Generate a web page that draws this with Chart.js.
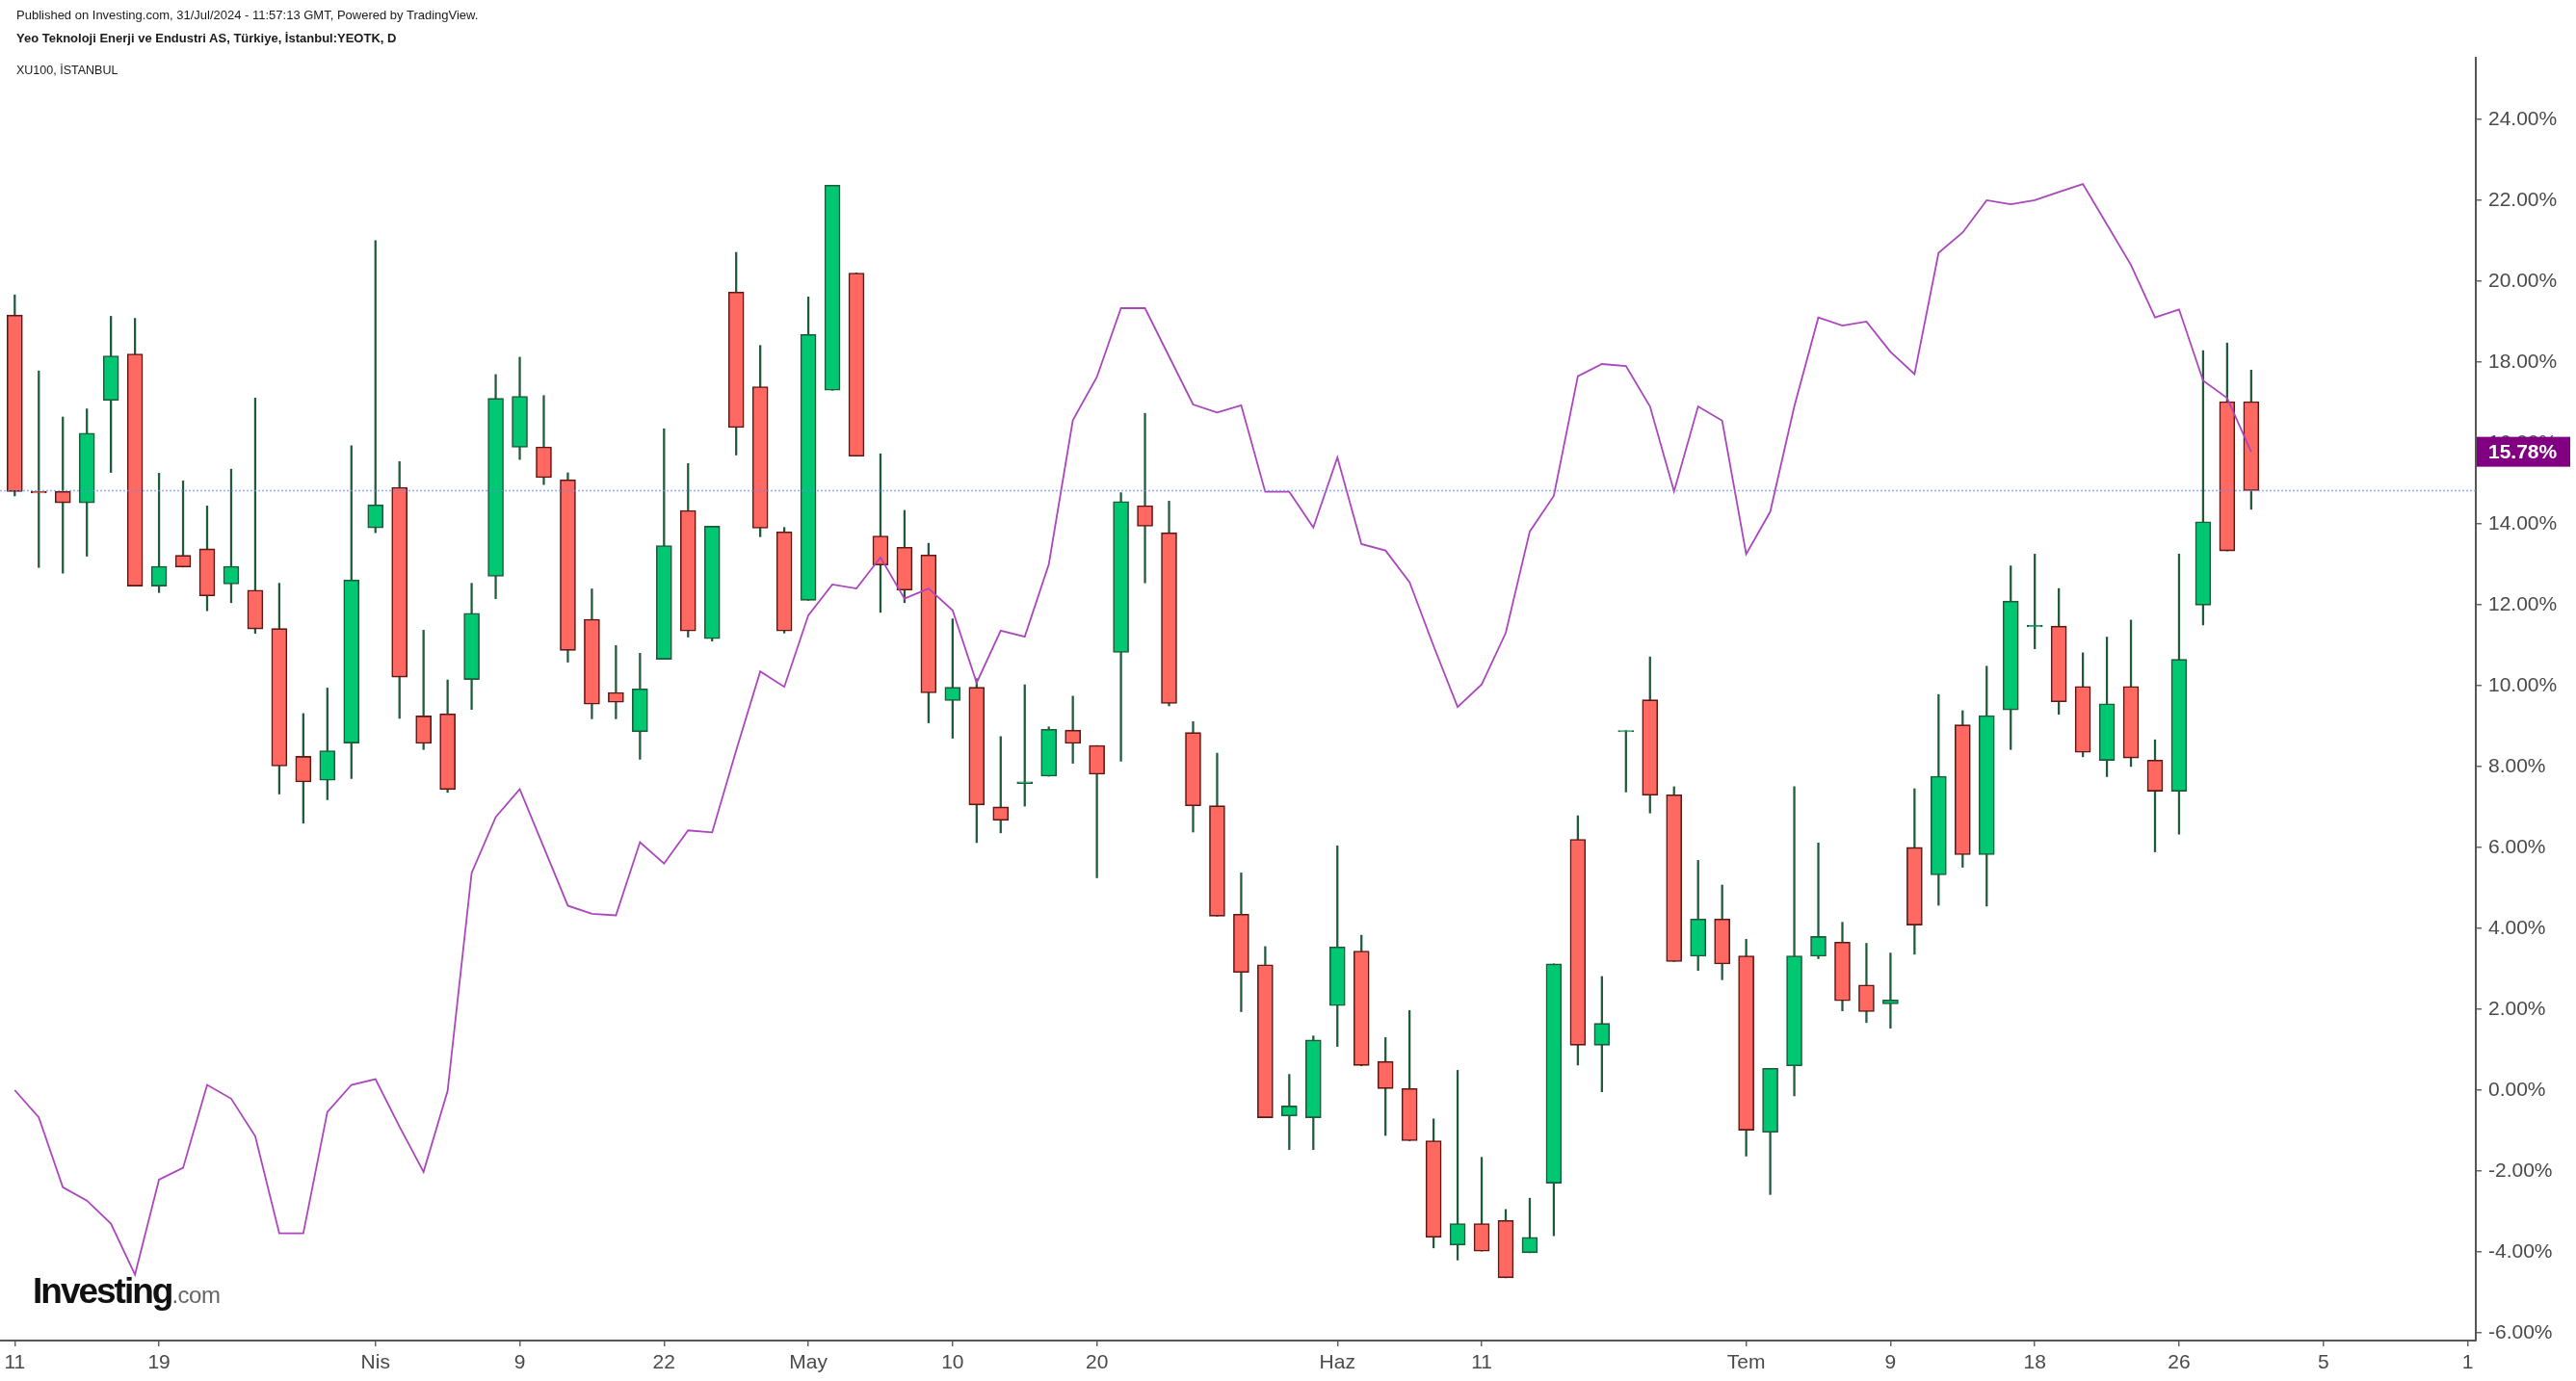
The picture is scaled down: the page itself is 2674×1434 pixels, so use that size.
<!DOCTYPE html>
<html>
<head>
<meta charset="utf-8">
<script src="https://cdn.jsdelivr.net/npm/chart.js@4.4.1/dist/chart.umd.min.js"></script>
<style>
  html, body { margin: 0; padding: 0; background: #fff; }
  #wrap { position: relative; width: 2674px; height: 1434px; overflow: hidden; }
  #chart { position: absolute; left: 0; top: 0; }
  .hdr { position: absolute; left: 17px; font-family: "Liberation Sans", Arial, sans-serif; color: #1a1a1a; white-space: nowrap; line-height: 15px; }
  #logo { position: absolute; left: 34px; top: 1323px; white-space: nowrap; font-family: "Liberation Sans", Arial, sans-serif; line-height: 36px; }
  #logo .a { font-size: 37px; font-weight: bold; color: #111; letter-spacing: -2px; }
  #logo .b { font-size: 24px; color: #666; letter-spacing: -0.5px; }
</style>
</head>
<body>
<div id="wrap">
  <canvas id="chart" width="2674" height="1434"></canvas>
  <div class="hdr" style="top:8px;font-size:13px;">Published on Investing.com, 31/Jul/2024 - 11:57:13 GMT, Powered by TradingView.</div>
  <div class="hdr" style="top:32px;font-size:13px;font-weight:bold;">Yeo Teknoloji Enerji ve Endustri AS, Türkiye, İstanbul:YEOTK, D</div>
  <div class="hdr" style="top:66px;font-size:12.5px;">XU100, İSTANBUL</div>
  <div id="logo"><span class="a">Investing</span><span class="b">.com</span></div>
</div>
<script>
// YEOTK daily candles, % scale (11 Mar - 31 Jul 2024), index = trading day
const opens = [19.16, 14.80, 14.80, 14.52, 17.05, 18.20, 12.46, 13.22, 13.38, 12.51,
  12.36, 11.41, 8.25, 7.66, 8.58, 13.90, 14.90, 9.25, 9.30, 10.15,
  12.70, 15.89, 15.90, 15.09, 11.64, 9.83, 8.86, 10.65, 14.33, 11.16,
  19.73, 17.39, 13.80, 12.11, 17.30, 20.20, 13.70, 13.42, 13.23, 9.63,
  9.96, 7.00, 7.58, 7.76, 8.90, 8.52, 10.82, 14.45, 13.78, 8.84,
  7.03, 4.35, 3.10, -0.64, -0.68, 2.09, 3.44, 0.71, 0.04, -1.25,
  -3.83, -3.30, -3.22, -4.02, -2.30, 6.20, 1.11, 8.86, 9.65, 7.30,
  3.31, 4.23, 3.32, -1.04, 0.60, 3.31, 3.66, 2.60, 2.13, 6.00,
  5.32, 9.03, 5.82, 9.40, 11.45, 11.47, 9.98, 8.15, 9.98, 8.16,
  7.39, 11.99, 17.02, 17.02];
const highs = [19.66, 17.78, 16.64, 16.84, 19.13, 19.08, 15.25, 15.06, 14.44, 15.35,
  17.11, 12.53, 9.31, 9.94, 15.93, 21.00, 15.54, 11.37, 10.14, 12.53,
  17.69, 18.12, 17.17, 15.26, 12.39, 10.99, 10.80, 16.35, 15.49, 13.94,
  20.71, 18.41, 13.91, 19.61, 22.37, 20.20, 15.73, 14.33, 13.52, 11.65,
  10.17, 8.74, 10.02, 8.98, 9.74, 8.52, 14.77, 16.73, 14.56, 9.11,
  8.33, 5.37, 3.55, 0.39, 1.34, 6.04, 3.83, 1.30, 1.97, -0.71,
  0.49, -1.66, -2.95, -2.67, 3.12, 6.78, 2.81, 8.89, 10.71, 7.50,
  5.68, 5.07, 3.73, 0.54, 7.50, 6.11, 4.15, 3.63, 3.39, 7.45,
  9.78, 9.38, 10.48, 12.96, 13.25, 12.40, 10.81, 11.20, 11.62, 8.66,
  13.25, 18.28, 18.47, 17.80];
const lows = [14.69, 12.92, 12.78, 13.20, 15.27, 12.46, 12.30, 12.93, 11.85, 12.05,
  11.29, 7.32, 6.60, 7.18, 7.70, 13.78, 9.19, 8.42, 7.36, 9.41,
  12.15, 15.59, 14.97, 10.58, 9.18, 9.18, 8.18, 10.65, 11.20, 11.10,
  15.70, 13.68, 11.30, 12.11, 17.30, 15.67, 11.81, 12.05, 9.08, 8.70,
  6.12, 6.36, 7.02, 7.76, 8.08, 5.25, 8.13, 12.54, 9.50, 6.38,
  4.30, 1.94, -0.68, -1.47, -1.47, 1.08, 0.60, -1.12, -1.25, -3.90,
  -4.20, -3.98, -4.64, -4.02, -3.60, 0.62, -0.04, 7.37, 6.85, 3.18,
  2.96, 2.73, -1.63, -2.58, -0.14, 3.25, 1.96, 1.67, 1.53, 3.36,
  4.57, 5.51, 4.55, 8.42, 10.91, 9.29, 8.24, 7.75, 8.00, 5.89,
  6.33, 11.50, 13.33, 14.36];
const closes = [14.80, 14.76, 14.52, 16.24, 18.15, 12.46, 12.95, 12.93, 12.22, 12.95,
  11.40, 8.01, 7.62, 8.39, 12.61, 14.47, 10.21, 8.57, 7.43, 11.79,
  17.10, 17.15, 15.14, 10.87, 9.54, 9.59, 9.92, 13.46, 11.35, 13.94,
  16.38, 13.89, 11.35, 18.68, 22.37, 15.67, 12.98, 12.36, 9.82, 9.96,
  7.05, 6.67, 7.62, 8.92, 8.57, 7.81, 14.55, 13.94, 9.56, 7.03,
  4.30, 2.91, -0.68, -0.39, 1.24, 3.54, 0.61, 0.04, -1.25, -3.64,
  -3.30, -3.98, -4.64, -3.64, 3.12, 1.11, 1.65, 8.89, 7.29, 3.18,
  4.23, 3.12, -0.99, 0.54, 3.32, 3.80, 2.21, 1.94, 2.23, 4.08,
  7.76, 5.82, 9.26, 12.09, 11.49, 9.60, 8.35, 9.55, 8.21, 7.39,
  10.65, 14.05, 13.33, 14.82];

// XU100 comparison line, % scale
const xu100 = [0.00, -0.67, -2.40, -2.73, -3.30, -4.56, -2.21, -1.92, 0.13, -0.21,
  -1.14, -3.54, -3.54, -0.54, 0.13, 0.27, -0.90, -2.02, -0.02, 5.37,
  6.75, 7.44, 6.00, 4.56, 4.36, 4.32, 6.13, 5.60, 6.42, 6.37,
  8.40, 10.35, 9.97, 11.74, 12.50, 12.40, 13.17, 12.15, 12.40, 11.86,
  10.07, 11.36, 11.21, 13.00, 16.56, 17.63, 19.33, 19.33, 18.14, 16.95,
  16.75, 16.93, 14.79, 14.79, 13.91, 15.64, 13.50, 13.34, 12.56, 10.98,
  9.47, 10.03, 11.30, 13.81, 14.69, 17.65, 17.95, 17.90, 16.90, 14.80,
  16.90, 16.55, 13.25, 14.30, 16.90, 19.10, 18.90, 19.00, 18.25, 17.70,
  20.70, 21.20, 22.00, 21.90, 22.00, 22.20, 22.40, 21.40, 20.40, 19.10,
  19.30, 17.54, 17.11, 15.78];

// axis ticks
const xTickPos = [0, 6, 15, 21, 27, 33, 39, 45, 55, 61, 72, 78, 84, 90, 96, 102];
const xTickLabels = ['11', '19', 'Nis', '9', '22', 'May', '10', '20', 'Haz', '11', 'Tem', '9', '18', '26', '5', '1'];
const yTicks = [-6, -4, -2, 0, 2, 4, 6, 8, 10, 12, 14, 16, 18, 20, 22, 24];

const FONT = '"Liberation Sans", Arial, sans-serif';
const upFill = '#00c772', upLine = '#1f5a3a';
const dnFill = '#ff6961', dnLine = '#5e1914';

const isUp = closes.map((c, i) => c >= opens[i]);

const overlay = {
  id: 'overlay',
  afterDatasetsDraw(chart) {
    const {ctx, chartArea, scales} = chart;
    // last price line
    const py = Math.round(scales.y.getPixelForValue(closes[closes.length - 1])) + 0.5;
    ctx.save();
    ctx.strokeStyle = 'rgba(110,140,235,0.7)';
    ctx.lineWidth = 1.5;
    ctx.setLineDash([2, 2]);
    ctx.beginPath();
    ctx.moveTo(chartArea.left, py);
    ctx.lineTo(chartArea.right, py);
    ctx.stroke();
    ctx.restore();
  },
  afterDraw(chart) {
    const {ctx, chartArea, scales} = chart;
    ctx.save();
    // clip the lowest y label like the original
    ctx.fillStyle = '#fff';
    ctx.fillRect(chartArea.right + 2, chartArea.bottom - 2, 200, 60);
    // XU100 last value tag
    const last = xu100[xu100.length - 1];
    const py = scales.y.getPixelForValue(last);
    ctx.fillStyle = '#810081';
    ctx.fillRect(chartArea.right + 1, py - 15.5, 97, 31);
    ctx.fillStyle = '#fff';
    ctx.font = 'bold 21px ' + FONT;
    ctx.textBaseline = 'middle';
    ctx.textAlign = 'left';
    ctx.fillText(last.toFixed(2) + '%', chartArea.right + 13, py + 1);
    ctx.restore();
  }
};

new Chart(document.getElementById('chart'), {
  type: 'bar',
  data: {
    datasets: [
      {
        type: 'line',
        label: 'XU100',
        data: xu100.map((v, i) => ({x: i, y: v})),
        borderColor: '#ab47bc',
        borderWidth: 1.8,
        pointRadius: 0,
        tension: 0,
        order: 0
      },
      {
        label: 'body',
        data: opens.map((o, i) => ({x: i, y: [o, closes[i]]})),
        backgroundColor: isUp.map(u => u ? upFill : dnFill),
        borderColor: isUp.map(u => u ? upLine : dnLine),
        borderWidth: 1.6,
        borderSkipped: false,
        barThickness: 16,
        grouped: false,
        order: 1
      },
      {
        label: 'wick',
        data: lows.map((l, i) => ({x: i, y: [l, highs[i]]})),
        backgroundColor: upLine,
        borderWidth: 0,
        barThickness: 1.6,
        grouped: false,
        order: 2
      }
    ]
  },
  options: {
    responsive: false,
    animation: false,
    layout: {padding: {top: 60, left: 0, right: 0, bottom: 0}},
    plugins: {legend: {display: false}, tooltip: {enabled: false}},
    scales: {
      x: {
        type: 'linear',
        offset: false,
        min: -0.613,
        max: 102.34,
        bounds: 'data',
        grid: {display: true, offset: false, drawOnChartArea: false, drawTicks: true, tickLength: 6, color: '#666', lineWidth: 1.5},
        border: {display: true, color: '#555', width: 2},
        ticks: {
          autoSkip: false, maxRotation: 0, padding: 5,
          color: '#4a4a4a', font: {family: FONT, size: 21},
          callback: (v, i) => xTickLabels[i]
        },
        afterBuildTicks: s => { s.ticks = xTickPos.map(v => ({value: v})); },
        afterFit: s => { s.height = 42; s.paddingLeft = 0; s.paddingRight = 0; }
      },
      y: {
        type: 'linear',
        position: 'right',
        min: -6.19,
        max: 25.52,
        bounds: 'data',
        grid: {display: true, drawOnChartArea: false, drawTicks: true, tickLength: 6, color: '#666', lineWidth: 1.5},
        border: {display: true, color: '#555', width: 2},
        ticks: {
          padding: 7, color: '#4a4a4a', font: {family: FONT, size: 21},
          callback: v => v.toFixed(2) + '%'
        },
        afterBuildTicks: s => { s.ticks = yTicks.map(v => ({value: v})); },
        afterFit: s => { s.width = 104; s.paddingTop = 0; s.paddingBottom = 0; }
      }
    }
  },
  plugins: [overlay]
});
</script>
</body>
</html>
